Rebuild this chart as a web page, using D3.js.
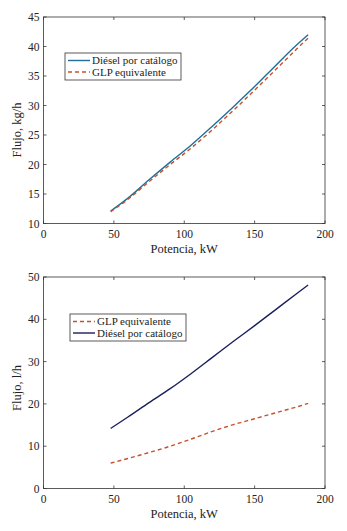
<!DOCTYPE html>
<html><head><meta charset="utf-8">
<script src="https://cdn.jsdelivr.net/npm/d3@7"></script>
<style>body{margin:0;background:#fff}svg{display:block}text{font-family:"Liberation Serif","Times New Roman",serif;fill:#222}</style>
</head><body>
<script>
const potenciaKW = [47.7, 60, 75, 90, 105, 120, 135, 150, 165, 180, 188];
// Top chart: kg/h
const dieselKgH = [12.1, 14.3, 17.4, 20.4, 23.3, 26.5, 29.8, 33.2, 36.8, 40.3, 42.0];
const glpKgH    = [12.0, 14.1, 17.1, 20.0, 22.8, 25.9, 29.2, 32.6, 36.1, 39.6, 41.4];
// Bottom chart: l/h
const dieselLH = [14.2, 16.9, 20.3, 23.6, 27.2, 31.0, 34.8, 38.5, 42.3, 46.1, 48.1];
const glpLH    = [6.0, 7.1, 8.5, 10.0, 11.7, 13.5, 15.1, 16.5, 17.9, 19.3, 20.1];
const xTicks = [0, 50, 100, 150, 200];
const yTicksTop = [10, 15, 20, 25, 30, 35, 40, 45];
const yTicksBot = [0, 10, 20, 30, 40, 50];

const W = 347, H = 531;
const svg = d3.select("body").append("svg").attr("width", W).attr("height", H);

function panel(cfg) {
  const g = svg.append("g");
  const x = d3.scaleLinear().domain([0, 200]).range([43.5, 325]);
  const y = d3.scaleLinear().domain(cfg.ydom).range([cfg.bottom, cfg.top]);
  g.append("rect").attr("x", x(0)).attr("y", y(cfg.ydom[1]))
    .attr("width", x(200) - x(0)).attr("height", y(cfg.ydom[0]) - y(cfg.ydom[1]))
    .attr("fill", "none").attr("stroke", "#333").attr("stroke-width", 0.8);
  const tl = 3;
  xTicks.forEach(t => {
    g.append("line").attr("x1", x(t)).attr("x2", x(t)).attr("y1", y(cfg.ydom[0])).attr("y2", y(cfg.ydom[0]) - tl).attr("stroke", "#333").attr("stroke-width", 0.8);
    g.append("line").attr("x1", x(t)).attr("x2", x(t)).attr("y1", y(cfg.ydom[1])).attr("y2", y(cfg.ydom[1]) + tl).attr("stroke", "#333").attr("stroke-width", 0.8);
    g.append("text").attr("x", x(t)).attr("y", y(cfg.ydom[0]) + 14).attr("text-anchor", "middle").attr("font-size", 11.5).text(t);
  });
  cfg.yticks.forEach(t => {
    g.append("line").attr("x1", x(0)).attr("x2", x(0) + tl).attr("y1", y(t)).attr("y2", y(t)).attr("stroke", "#333").attr("stroke-width", 0.8);
    g.append("line").attr("x1", x(200)).attr("x2", x(200) - tl).attr("y1", y(t)).attr("y2", y(t)).attr("stroke", "#333").attr("stroke-width", 0.8);
    g.append("text").attr("x", x(0) - 4).attr("y", y(t)).attr("dy", "0.35em").attr("text-anchor", "end").attr("font-size", 11.5).text(t);
  });
  g.append("text").attr("x", (x(0) + x(200)) / 2).attr("y", y(cfg.ydom[0]) + 29).attr("text-anchor", "middle").attr("font-size", 12.5).text("Potencia, kW");
  g.append("text").attr("transform", `translate(17,${cfg.ylabelY}) rotate(-90)`).attr("text-anchor", "middle").attr("dy", "0.35em").attr("font-size", 12.5).text(cfg.ylabel);
  const line = d3.line().x(d => x(d[0])).y(d => y(d[1])).curve(d3.curveMonotoneX);
  cfg.series.forEach(s => {
    g.append("path").datum(potenciaKW.map((p, i) => [p, s.values[i]]))
      .attr("d", line).attr("fill", "none").attr("stroke", s.color).attr("stroke-width", 1.4)
      .attr("stroke-dasharray", s.dash || null);
  });
  const lg = g.append("g");
  lg.append("rect").attr("x", cfg.leg[0]).attr("y", cfg.leg[1]).attr("width", cfg.leg[2]).attr("height", cfg.leg[3])
    .attr("fill", "#fff").attr("stroke", "#333").attr("stroke-width", 0.8);
  cfg.series.forEach((s, i) => {
    const ly = cfg.leg[1] + 7.5 + i * 11.5;
    lg.append("line").attr("x1", cfg.leg[0] + 3).attr("x2", cfg.leg[0] + 25).attr("y1", ly).attr("y2", ly)
      .attr("stroke", s.color).attr("stroke-width", 1.4).attr("stroke-dasharray", s.dash || null);
    lg.append("text").attr("x", cfg.leg[0] + 27).attr("y", ly).attr("dy", "0.35em").attr("font-size", 11).text(s.name);
  });
}

panel({
  ydom: [10, 45], top: 17, bottom: 223.5, yticks: yTicksTop, ylabel: "Flujo, kg/h", ylabelY: 130,
  leg: [65, 53, 116, 27],
  series: [
    {name: "Diésel por catálogo", values: dieselKgH, color: "#1f6f9a"},
    {name: "GLP equivalente", values: glpKgH, color: "#c8502a", dash: "4,3"}
  ]
});
panel({
  ydom: [0, 50], top: 277, bottom: 488.5, yticks: yTicksBot, ylabel: "Flujo, l/h", ylabelY: 388,
  leg: [70, 314, 116, 27],
  series: [
    {name: "GLP equivalente", values: glpLH, color: "#c8502a", dash: "4,3"},
    {name: "Diésel por catálogo", values: dieselLH, color: "#1a1f5c"}
  ]
});
</script>
</body></html>
